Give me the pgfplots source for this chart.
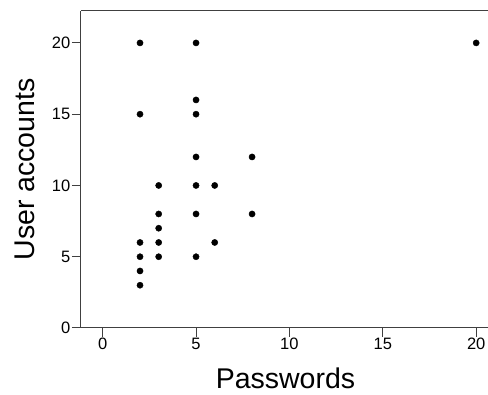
\documentclass[border=0pt]{standalone}
\usepackage{pgfplots}
\pgfplotsset{compat=1.18}
\usepackage{fontspec}
\setmainfont{Liberation Sans}
\definecolor{axgray}{HTML}{404040}
\begin{document}
\begin{tikzpicture}
\begin{axis}[
  scale only axis,
  width=409pt, height=317pt,
  xmin=-1.16, xmax=20.74,
  ymin=0, ymax=22.24,
  axis x line*=bottom, axis y line*=left,
  xtick={0,5,10,15,20},
  ytick={0,5,10,15,20},
  tick align=outside,
  major tick length=9pt,
  axis line style={-, axgray, line width=1pt},
  every tick/.style={axgray, line width=1pt},
  tick label style={font=\fontsize{16.5}{18}\selectfont},
  xticklabel style={inner sep=1pt},
  yticklabel style={inner sep=1.5pt},
  /pgf/number format/assume math mode=true,
  xlabel={Passwords}, ylabel={User accounts},
  label style={font=\fontsize{28.5}{32}\selectfont, inner sep=0pt},
  xlabel style={at={(axis description cs:0.5,-0.1893)}, anchor=base},
  ylabel style={at={(axis description cs:-0.1125,0.5)}, anchor=base},
  clip=false,
]
\addplot[only marks, mark=*, mark size=3.1pt, black] coordinates {
(2,20) (2,15) (2,6) (2,5) (2,4) (2,3)
(3,10) (3,8) (3,7) (3,6) (3,5)
(5,20) (5,16) (5,15) (5,12) (5,10) (5,8) (5,5)
(6,10) (6,6)
(8,12) (8,8)
(20,20)
};
\draw[axgray, line width=1pt] (rel axis cs:0,1) -- (rel axis cs:1,1);
\end{axis}
\pgfresetboundingbox
\path (current axis.south west) ++(-81pt,-67pt) rectangle ++(488pt,395pt);
\end{tikzpicture}
\end{document}
